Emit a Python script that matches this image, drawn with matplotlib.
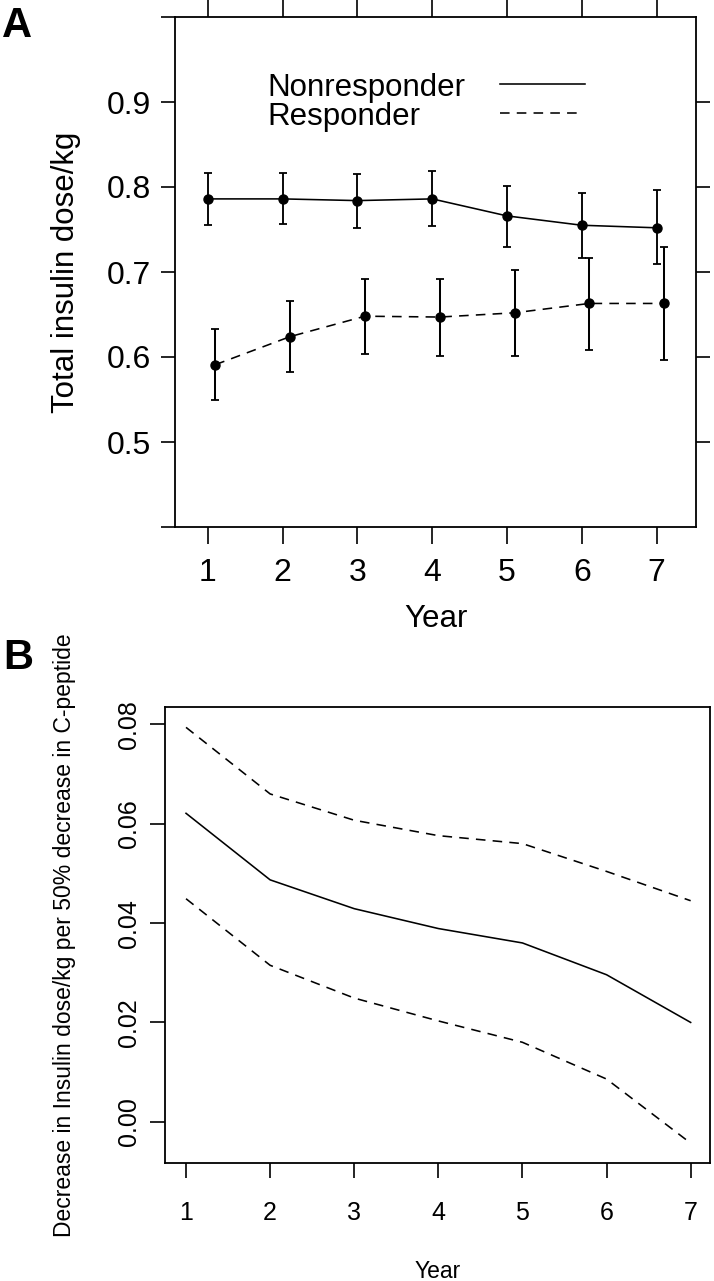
import matplotlib
matplotlib.use("Agg")
import matplotlib.pyplot as plt
import numpy as np

plt.rcParams['font.family'] = ['Liberation Sans', 'DejaVu Sans']

# ---------------- data ----------------
years = [1, 2, 3, 4, 5, 6, 7]
resp_offset = 0.1

nonresp_mean = [0.786, 0.786, 0.784, 0.786, 0.766, 0.755, 0.752]
nonresp_upper = [0.816, 0.816, 0.815, 0.819, 0.801, 0.793, 0.797]
nonresp_lower = [0.755, 0.757, 0.752, 0.754, 0.730, 0.717, 0.709]

resp_mean = [0.591, 0.624, 0.648, 0.647, 0.652, 0.663, 0.663]
resp_upper = [0.633, 0.666, 0.692, 0.692, 0.702, 0.717, 0.729]
resp_lower = [0.549, 0.582, 0.604, 0.601, 0.601, 0.608, 0.597]

b_estimate = [0.0621, 0.0487, 0.0429, 0.0389, 0.0360, 0.0296, 0.0200]
b_upper = [0.0794, 0.0660, 0.0607, 0.0576, 0.0560, 0.0504, 0.0445]
b_lower = [0.0449, 0.0315, 0.0249, 0.0203, 0.0160, 0.0086, -0.0043]

a_yticks = [0.4, 0.5, 0.6, 0.7, 0.8, 0.9, 1.0]
a_yticklabels = ['', '0.5', '0.6', '0.7', '0.8', '0.9', '']
b_yticks = [0.00, 0.02, 0.04, 0.06, 0.08]
b_yticklabels = ['0.00', '0.02', '0.04', '0.06', '0.08']

legend_labels = ['Nonresponder', 'Responder']

# ---------------- figure ----------------
W, H = 714, 1281
fig = plt.figure(figsize=(W / 100, H / 100), dpi=100)


def frac_box(l, t, r, b):
    return [l / W, 1 - b / H, (r - l) / W, (b - t) / H]


dash = (0, (6, 4.5))

# ---------------- panel A ----------------
axA = fig.add_axes(frac_box(175, 17, 696, 527))
x = np.array(years, dtype=float)
nm, nu, nl = map(np.array, (nonresp_mean, nonresp_upper, nonresp_lower))
rm, ru, rl = map(np.array, (resp_mean, resp_upper, resp_lower))

axA.errorbar(x, nm, yerr=[nm - nl, nu - nm], fmt='o', color='black', ms=6.5,
             ecolor='black', elinewidth=1.35, capsize=3.2, capthick=1.3, zorder=3)
axA.plot(x, nm, '-', color='black', lw=1.15)
axA.errorbar(x + resp_offset, rm, yerr=[rm - rl, ru - rm], fmt='o', color='black', ms=6.5,
             ecolor='black', elinewidth=1.45, capsize=3.2, capthick=1.3, zorder=3)
axA.plot(x + resp_offset, rm, color='black', lw=1.15, linestyle=dash)

axA.set_xlim(0.56, 7.527)
axA.set_ylim(0.4, 1.0)
axA.set_xticks(years)
axA.set_xticklabels([str(y) for y in years])
axA.set_yticks(a_yticks)
axA.set_yticklabels(a_yticklabels)
axA.tick_params(axis='x', direction='out', length=12, width=1.2, pad=10,
                labelsize=23, top=True, bottom=True)
axA.tick_params(axis='y', direction='out', length=10, width=1.2, pad=7,
                labelsize=23, left=True, right=True)
yt = axA.yaxis.get_major_ticks()
yt[0].tick2line.set_visible(False)
yt[-1].tick2line.set_visible(False)
for s in axA.spines.values():
    s.set_linewidth(1.3)

axA.set_ylabel('Total insulin dose/kg', fontsize=22.5, va='center')
axA.yaxis.set_label_coords(-0.2092, 0.5)
axA.set_xlabel('Year', fontsize=22.5, va='center')
axA.xaxis.set_label_coords(0.5, -0.1804)

# legend (text left, line sample right)
axA.text(0.1766, 0.845, legend_labels[0], transform=axA.transAxes,
         fontsize=22.5, va='baseline', ha='left')
axA.text(0.1766, 0.788, legend_labels[1], transform=axA.transAxes,
         fontsize=22.5, va='baseline', ha='left')
axA.plot([0.6238, 0.787], [0.8686, 0.8686], transform=axA.transAxes,
         color='black', lw=1.15, linestyle='-')
axA.plot([0.6238, 0.782], [0.811, 0.811], transform=axA.transAxes,
         color='black', lw=1.15, linestyle=dash)

# ---------------- panel B ----------------
axB = fig.add_axes(frac_box(165, 707, 710, 1163))
axB.plot(years, b_estimate, '-', color='black', lw=1.15)
axB.plot(years, b_upper, color='black', lw=1.15, linestyle=dash)
axB.plot(years, b_lower, color='black', lw=1.15, linestyle=dash)
axB.set_xlim(0.75, 7.23)
axB.set_ylim(-0.0083, 0.0835)
axB.set_xticks(years)
axB.set_xticklabels([str(y) for y in years])
axB.set_yticks(b_yticks)
axB.set_yticklabels(b_yticklabels, rotation=90, va='center')
axB.tick_params(axis='x', direction='out', length=11, width=1.2, pad=16, labelsize=18)
axB.tick_params(axis='y', direction='out', length=11, width=1.2, pad=6, labelsize=18)
for s in axB.spines.values():
    s.set_linewidth(1.3)
axB.set_ylabel('Decrease in Insulin dose/kg per 50% decrease in C-peptide',
               fontsize=16.5, va='center')
axB.yaxis.set_label_coords(-0.185, 0.5)
axB.set_xlabel('Year', fontsize=16.5, va='center')
axB.xaxis.set_label_coords(0.5, -0.2384)

# panel letters
fig.text(0.003, 1 - 6 / H, 'A', fontsize=30, fontweight='bold', va='top', ha='left')
fig.text(0.004, 1 - 638 / H, 'B', fontsize=30, fontweight='bold', va='top', ha='left')

fig.savefig('out.png', dpi=100)
